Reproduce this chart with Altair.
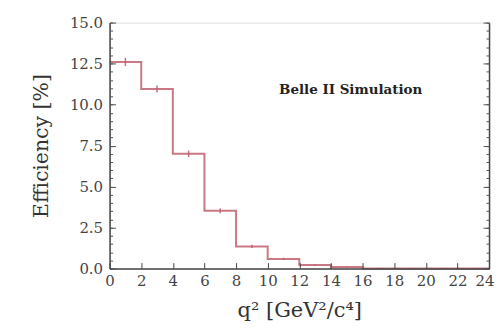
import altair as alt
import pandas as pd

# ---- data ----
bin_lo = [0, 2, 4, 6, 8, 10, 12, 14, 16, 18, 20, 22]
bin_hi = [2, 4, 6, 8, 10, 12, 14, 16, 18, 20, 22, 24]
efficiency = [12.6, 10.95, 7.0, 3.52, 1.35, 0.59, 0.22, 0.1, 0.0, 0.0, 0.0, 0.0]
error = [0.25, 0.22, 0.2, 0.15, 0.1, 0.07, 0.05, 0.04, 0.04, 0.04, 0.04, 0.04]
x_ticks = list(range(0, 25, 2))
y_major = [0, 2.5, 5, 7.5, 10, 12.5, 15]
y_minor = [i * 0.5 for i in range(31)]
label_text = ["Belle II Simulation"]
label_x = [15.25]
label_y = [10.9]

# step line points (step-after), last edge repeats last value
step_df = pd.DataFrame({
    "q2": bin_lo + [bin_hi[-1]],
    "eff": efficiency + [efficiency[-1]],
})
err_df = pd.DataFrame({
    "center": [(a + b) / 2 for a, b in zip(bin_lo, bin_hi)],
    "lo": [max(e - s, 0) for e, s in zip(efficiency, error)],
    "hi": [e + s for e, s in zip(efficiency, error)],
})
txt_df = pd.DataFrame({"t": label_text, "x": label_x, "y": label_y})

FONT = "DejaVu Serif"
LINE = "#c0606e"

xscale = alt.Scale(domain=[0, 24], nice=False, zero=False)
yscale = alt.Scale(domain=[0, 15], nice=False, zero=False)

x_axis = alt.Axis(
    values=x_ticks, title="q²  [GeV²/c⁴]", orient="bottom", grid=False,
    tickSize={"expr": "-6"}, labelPadding=11, tickColor="#444", tickWidth=1,
    domainColor="#444", domainWidth=1.5, labelFont=FONT, labelFontSize=15,
    labelColor="#444", titleFont=FONT, titleFontSize=21, titleFontWeight="normal",
    titleColor="#333", titlePadding=11, zindex=1, labelFlush=False,
    labelAlign={"condition": {"test": "datum.value == 24", "value": "right"},
                "value": "center"},
    labelOffset={"condition": {"test": "datum.value == 24", "value": 5},
                 "value": 0},
)

def yaxis(orient, values, size, labels=False, domain=False, title=None):
    kw = dict(
        values=values, orient=orient, grid=False, labels=labels, domain=domain,
        tickSize={"expr": str(-size)}, tickColor="#555", tickWidth=1,
        domainColor="#444", domainWidth=1.5, zindex=1,
    )
    if labels:
        kw.update(format=".1f", labelPadding=size + 7, labelFont=FONT,
                  labelFontSize=15, labelColor="#444")
    if title:
        kw.update(title=title, titleFont=FONT, titleFontSize=20.5,
                  titleFontWeight="normal", titleColor="#333", titlePadding=18)
    else:
        kw.update(title=None)
    return alt.Axis(**kw)

step = alt.Chart(step_df).mark_line(
    interpolate="step-after", color=LINE, strokeWidth=2, opacity=0.85
).encode(
    x=alt.X("q2:Q", scale=xscale, axis=x_axis),
    y=alt.Y("eff:Q", scale=yscale,
            axis=yaxis("left", y_major, 6, labels=True, domain=True,
                       title="Efficiency [%]")),
)

errs = alt.Chart(err_df).mark_rule(color=LINE, strokeWidth=1.5, opacity=0.9).encode(
    x=alt.X("center:Q", scale=xscale, axis=x_axis),
    y=alt.Y("lo:Q", scale=yscale, axis=yaxis("left", y_minor, 3)),
    y2="hi:Q",
)

txt = alt.Chart(txt_df).mark_text(
    font=FONT, fontSize=13.5, fontWeight="bold", color="#222"
).encode(
    x=alt.X("x:Q", scale=xscale, axis=x_axis),
    y=alt.Y("y:Q", scale=yscale, axis=yaxis("right", y_major, 6, domain=True)),
    text="t:N",
)

dots = alt.Chart(err_df).mark_point(opacity=0).encode(
    x=alt.X("center:Q", scale=xscale, axis=x_axis),
    y=alt.Y("hi:Q", scale=yscale, axis=yaxis("right", y_minor, 3)),
)

chart = alt.layer(step, errs, txt, dots).resolve_axis(
    y="independent"
).resolve_scale(y="shared").properties(
    width=381, height=247,
    autosize=alt.AutoSizeParams(type="none"),
    padding={"left": 102, "top": 14, "right": 6, "bottom": 58},
).configure_view(stroke="#333", strokeWidth=1.5).configure(background="white")

chart.save("out.html", embed_options={"renderer": "svg", "actions": False})
